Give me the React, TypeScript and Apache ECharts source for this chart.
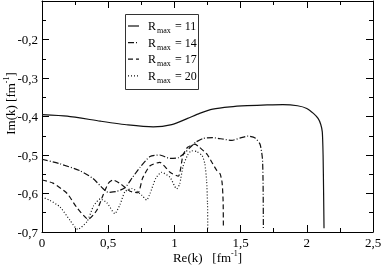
import React, { useEffect, useRef } from "react";
import * as echarts from "echarts";

// [Re(k), Im(k)] points
const rmax11: [number, number][] = [
  [0, -0.395], [0.19, -0.399], [0.44, -0.412], [0.65, -0.422], [0.84, -0.427],
  [0.98, -0.421], [1.1, -0.405], [1.19, -0.392], [1.29, -0.381], [1.42, -0.375],
  [1.55, -0.372], [1.7, -0.37], [1.82, -0.369], [1.93, -0.372], [2.0, -0.379],
  [2.05, -0.392], [2.085, -0.405], [2.105, -0.42], [2.117, -0.44], [2.123, -0.5],
  [2.127, -0.6], [2.13, -0.69],
];
const rmax14: [number, number][] = [
  [0, -0.511], [0.136, -0.523], [0.287, -0.541], [0.385, -0.561], [0.46, -0.587],
  [0.5, -0.597], [0.56, -0.595], [0.627, -0.585], [0.68, -0.56], [0.74, -0.532],
  [0.816, -0.504], [0.89, -0.5], [0.967, -0.509], [1.03, -0.507], [1.08, -0.494],
  [1.12, -0.48], [1.16, -0.467], [1.216, -0.457], [1.29, -0.455], [1.37, -0.459],
  [1.435, -0.462], [1.495, -0.456], [1.556, -0.451], [1.61, -0.456], [1.647, -0.472],
  [1.665, -0.51], [1.67, -0.58], [1.672, -0.69],
];
const rmax17: [number, number][] = [
  [0, -0.565], [0.083, -0.573], [0.19, -0.6], [0.26, -0.635], [0.35, -0.667],
  [0.415, -0.643], [0.46, -0.605], [0.5, -0.574], [0.536, -0.565], [0.59, -0.574],
  [0.665, -0.594], [0.725, -0.598], [0.76, -0.56], [0.816, -0.528], [0.89, -0.519],
  [0.967, -0.545], [1.03, -0.555], [1.065, -0.5], [1.1, -0.48], [1.155, -0.472],
  [1.19, -0.48], [1.246, -0.498], [1.29, -0.523], [1.32, -0.54], [1.345, -0.549],
  [1.36, -0.571], [1.368, -0.62], [1.37, -0.69],
];
const rmax20: [number, number][] = [
  [0, -0.609], [0.06, -0.618], [0.136, -0.635], [0.21, -0.669], [0.27, -0.693],
  [0.34, -0.673], [0.39, -0.632], [0.44, -0.614], [0.49, -0.624], [0.55, -0.652],
  [0.59, -0.628], [0.627, -0.595], [0.68, -0.587], [0.755, -0.605], [0.79, -0.617],
  [0.816, -0.6], [0.86, -0.56], [0.904, -0.545], [0.967, -0.558], [1.0, -0.58],
  [1.017, -0.588], [1.04, -0.575], [1.065, -0.53], [1.1, -0.5], [1.13, -0.489],
  [1.17, -0.491], [1.21, -0.502], [1.23, -0.523], [1.243, -0.566], [1.25, -0.625],
  [1.252, -0.69],
];

const rmaxValues = ["11", "14", "17", "20"];
const seriesData = [rmax11, rmax14, rmax17, rmax20];
const dashTypes: any[] = ["solid", [6, 2, 1, 2], [5, 3], [1, 2]];

const FONT = "Liberation Serif";
const fmt = (v: number) => String(Math.round(v * 100) / 100).replace(".", ",");

function legendGraphics() {
  const els: any[] = [
    {
      type: "rect",
      shape: { x: 125.5, y: 14.5, width: 73, height: 75 },
      style: { fill: "#fff", stroke: "#333", lineWidth: 1 },
      z: 10,
    },
  ];
  rmaxValues.forEach((v, i) => {
    const y = 26 + 16.6 * i;
    const dash = dashTypes[i];
    els.push({
      type: "line",
      shape: { x1: 128, y1: y, x2: 139, y2: y },
      style: { stroke: "#111", lineWidth: 1.2, lineDash: Array.isArray(dash) ? dash : null },
      z: 11,
    });
    els.push({
      type: "text",
      x: 148, y: y,
      style: { text: "R", fontFamily: FONT, fontSize: 12, fill: "#000", verticalAlign: "middle", align: "left" },
      z: 11,
    });
    els.push({
      type: "text",
      x: 157, y: y + 4.5,
      style: { text: "max", fontFamily: FONT, fontSize: 8, fill: "#000", verticalAlign: "middle", align: "left" },
      z: 11,
    });
    els.push({
      type: "text",
      x: 175, y: y,
      style: { text: "= " + v, fontFamily: FONT, fontSize: 12, fill: "#000", verticalAlign: "middle", align: "left" },
      z: 11,
    });
  });
  return els;
}

export default function App() {
  const ref = useRef<HTMLDivElement>(null);
  useEffect(() => {
    if (!ref.current) return;
    const chart = echarts.init(ref.current, undefined, { renderer: "svg" });
    const axisCommon = {
      axisLine: { onZero: false, lineStyle: { color: "#000", width: 1 } },
      axisTick: { inside: true, length: 7, lineStyle: { color: "#000" } },
      minorTick: { show: true, splitNumber: 2, length: 4, lineStyle: { color: "#000" } },
      splitLine: { show: false },
      minorSplitLine: { show: false },
    };
    const xBase = { type: "value", min: 0, max: 2.5, interval: 0.5, ...axisCommon };
    const yBase = { type: "value", min: -0.7, max: -0.1, interval: 0.1, ...axisCommon };
    chart.setOption({
      animation: false,
      grid: { left: 42, right: 9, top: 1, bottom: 34, outerBoundsMode: "none", containLabel: false },
      xAxis: [
        {
          ...xBase,
          position: "bottom",
          axisLabel: { fontFamily: FONT, fontSize: 13, color: "#000", margin: 4, formatter: fmt },
          name: "Re(k)   [fm{sup|-1}]",
          nameLocation: "middle",
          nameGap: 17,
          nameMoveOverlap: false,
          nameTextStyle: {
            fontFamily: FONT, fontSize: 13, color: "#000", lineHeight: 17,
            rich: { sup: { fontFamily: FONT, fontSize: 8, lineHeight: 8, verticalAlign: "top" } },
          },
        },
        { ...xBase, position: "top", axisLabel: { show: false } },
      ],
      yAxis: [
        {
          ...yBase,
          position: "left",
          axisLabel: { fontFamily: FONT, fontSize: 13, color: "#000", margin: 4, formatter: fmt, showMaxLabel: false },
          name: "Im(k) [fm{sup|-1}]",
          nameLocation: "middle",
          nameGap: 23,
          nameMoveOverlap: false,
          nameTextStyle: {
            fontFamily: FONT, fontSize: 13, color: "#000", lineHeight: 17, padding: [0, 0, 0, 26],
            rich: { sup: { fontFamily: FONT, fontSize: 8, lineHeight: 8, verticalAlign: "top" } },
          },
        },
        { ...yBase, position: "right", axisLabel: { show: false } },
      ],
      graphic: legendGraphics(),
      series: seriesData.map((d, i) => ({
        name: "R" + rmaxValues[i],
        type: "line",
        data: d,
        symbol: "none",
        smooth: 0.2,
        lineStyle: { color: "#111", width: 1.2, type: dashTypes[i] },
      })),
    });
    return () => chart.dispose();
  }, []);
  return <div ref={ref} style={{ position: "fixed", left: 0, top: 0, width: 382, height: 266 }} />;
}
